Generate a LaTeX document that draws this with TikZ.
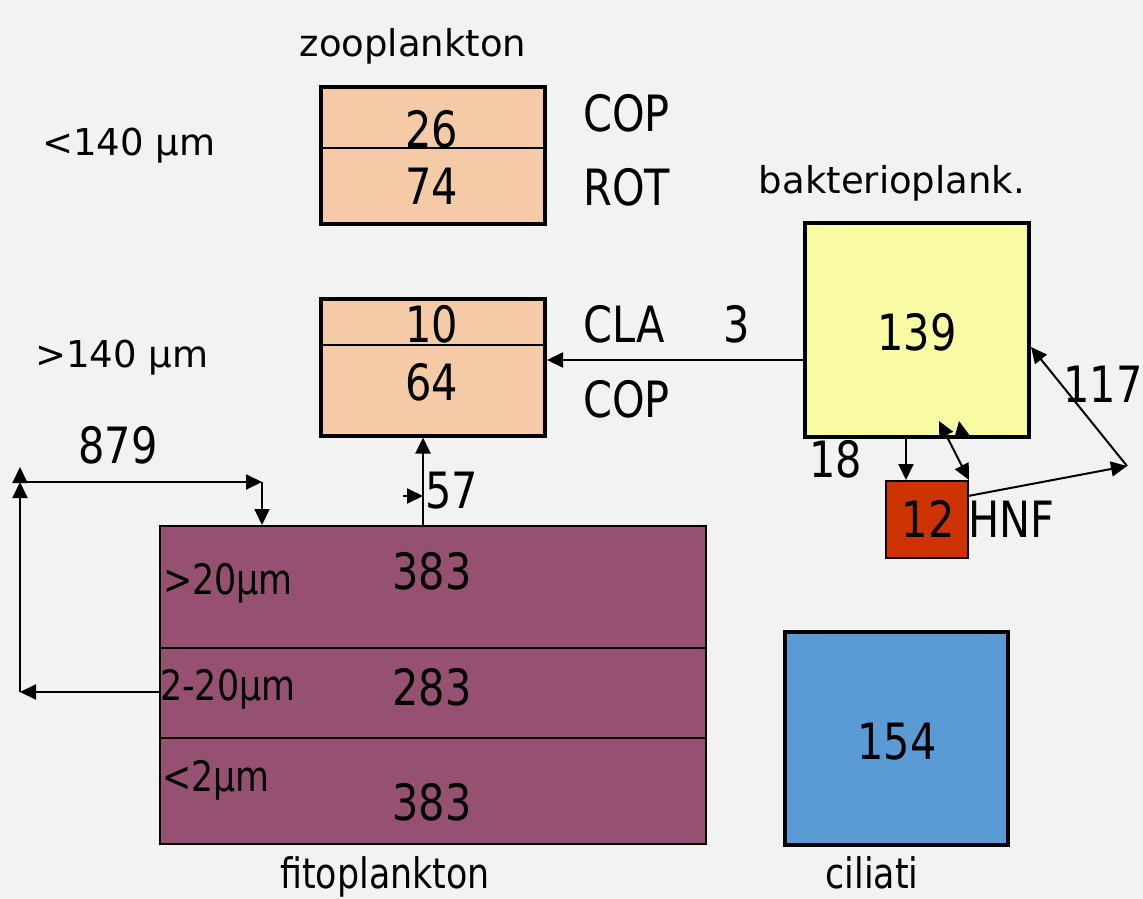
\documentclass[tikz,border=0pt]{standalone}
\usepackage{fontspec}
\setmainfont{DejaVu Sans}
\newfontfamily\narrowfont{DejaVu Sans}[FakeStretch=0.83]
\usepackage{tikz}
\usetikzlibrary{arrows.meta, positioning}
\definecolor{bgcolor}{RGB}{242,242,242}
\definecolor{zoocolor}{RGB}{245,203,167}
\definecolor{baktcolor}{RGB}{249,251,164}
\definecolor{hnfcolor}{RGB}{204,51,0}
\definecolor{fitocolor}{RGB}{150,80,114}
\definecolor{cilcolor}{RGB}{91,155,213}

\tikzset{
    box/.style={draw=black, inner sep=0pt},
    thickbox/.style={box, line width=4pt},
    thinbox/.style={box, line width=2pt},
    big/.style={inner sep=0pt, font=\fontsize{50}{55}\narrowfont},
    mid/.style={inner sep=0pt, font=\fontsize{42}{46}\narrowfont},
    small/.style={inner sep=0pt, font=\fontsize{37}{40}\selectfont},
    divider/.style={line width=2pt},
    flow/.style={line width=2pt, -{Triangle[length=16pt 0 0,width=15pt 0 0]}},
    flowboth/.style={line width=2pt, {Triangle[length=16pt 0 0,width=15pt 0 0]}-{Triangle[length=16pt 0 0,width=15pt 0 0]}},
}

\begin{document}
\begin{tikzpicture}[x=1pt, y=-1pt]
    \fill[bgcolor] (0,0) rectangle (1143,899);
    \useasboundingbox (0,0) rectangle (1143,899);

    % zooplankton
    \node[small, anchor=base] (zootitle) at (413,57) {zooplankton};
    \node[thickbox, fill=zoocolor, minimum width=224pt, minimum height=137pt] (zooS) at (433,155.5) {};
    \node[thickbox, fill=zoocolor, minimum width=224pt, minimum height=137pt] (zooL) at (433,367) {};
    \coordinate (divS) at (0,148);
    \coordinate (divL) at (0,345);
    \draw[divider] (zooS.west |- divS) -- (zooS.east |- divS);
    \draw[divider] (zooL.west |- divL) -- (zooL.east |- divL);
    \node[small, anchor=base west] (sizeS) at (42,155) {<140 µm};
    \node[small, anchor=base west] (sizeL) at (35,367) {>140 µm};
    \node[big, anchor=base] (zooS1) at (432,147) {26};
    \node[big, anchor=base] (zooS2) at (432,204) {74};
    \node[big, anchor=base] (zooL1) at (432,342) {10};
    \node[big, anchor=base] (zooL2) at (432,400) {64};
    \node[big, anchor=base west] (copS) at (583,131) {COP};
    \node[big, anchor=base west] (rotS) at (583,205) {ROT};
    \node[big, anchor=base west] (claL) at (583,342) {CLA};
    \node[big, anchor=base west] (copL) at (583,417) {COP};

    % bakterioplankton and HNF
    \node[small, anchor=base] (bakttitle) at (892,193) {bakterioplank.};
    \node[thickbox, fill=baktcolor, minimum width=224pt, minimum height=214pt] (bakt) at (917,330) {};
    \node[big, anchor=base] (baktval) at (917,350) {139};
    \node[thinbox, fill=hnfcolor, minimum width=82pt, minimum height=77pt] (hnf) at (927,519.5) {};
    \node[big, anchor=base] (hnfval) at (928,537) {12};
    \node[big, anchor=base west] (hnflabel) at (968,537) {HNF};

    % fitoplankton
    \node[thinbox, fill=fitocolor, minimum width=546pt, minimum height=318pt] (fito) at (433,685) {};
    \foreach \y in {648,738} {
        \draw[divider] (160,\y) -- (706,\y);
    }
    \node[mid, anchor=base west] (fitoA) at (163,594) {>20µm};
    \node[mid, anchor=base west] (fitoB) at (160,700) {2-20µm};
    \node[mid, anchor=base west] (fitoC) at (162,791) {<2µm};
    \node[big, anchor=base] (fitoAval) at (432,589) {383};
    \node[big, anchor=base] (fitoBval) at (432,705) {283};
    \node[big, anchor=base] (fitoCval) at (432,820) {383};
    \node[mid, anchor=base] (fitotitle) at (385,888) {fitoplankton};

    % ciliati
    \node[thickbox, fill=cilcolor, minimum width=223pt, minimum height=213pt] (cil) at (896.5,738.5) {};
    \node[big, anchor=base] (cilval) at (897,759) {154};
    \node[mid, anchor=base] (ciltitle) at (872,888) {ciliati};

    % flows
    \coordinate (loopL) at (20,692);
    \coordinate (loopM) at (20,482);
    \coordinate (loopT) at (20,467);
    \coordinate (loopR) at (262,482);
    \draw[flow] (fito.west |- loopL) -- (loopL);
    \draw[flow] (loopL) -- (loopM);
    \draw[flow] (loopM) -- (loopT);
    \draw[flow] (loopM) -- (loopR);
    \draw[flow] (loopR) -- (loopR |- fito.north);
    \node[big, anchor=base] (lbl879) at (118,463) {879};

    \coordinate (up57) at (423,0);
    \coordinate (tickA) at (403,496);
    \coordinate (tickB) at (423,496);
    \draw[flow] (fito.north -| up57) -- (zooL.south -| up57);
    \draw[flow] (tickA) -- (tickB);
    \node[big, anchor=base west] (lbl57) at (425,508) {57};

    \coordinate (flow3) at (0,360);
    \draw[flow] (bakt.west |- flow3) -- (zooL.east |- flow3);
    \node[big, anchor=base] (lbl3) at (737,342) {3};

    \coordinate (down18) at (906,0);
    \draw[flow] (bakt.south -| down18) -- (hnf.north -| down18);
    \node[big, anchor=base west] (lbl18) at (809,477) {18};

    \coordinate (hnfTipA) at (939,421);
    \coordinate (hnfTipB) at (959,421);
    \coordinate (hnfTipBs) at (962,437);
    \draw[flowboth] (hnf.north east) -- (hnfTipA);
    \draw[flow] (hnfTipBs) -- (hnfTipB);

    \coordinate (hnfOut) at (968,496);
    \coordinate (turn117) at (1127,466);
    \coordinate (in117) at (0,347);
    \draw[flow] (hnfOut) -- (turn117);
    \draw[flow] (turn117) -- (bakt.east |- in117);
    \node[big, anchor=base west] (lbl117) at (1063,402) {117};
\end{tikzpicture}
\end{document}
